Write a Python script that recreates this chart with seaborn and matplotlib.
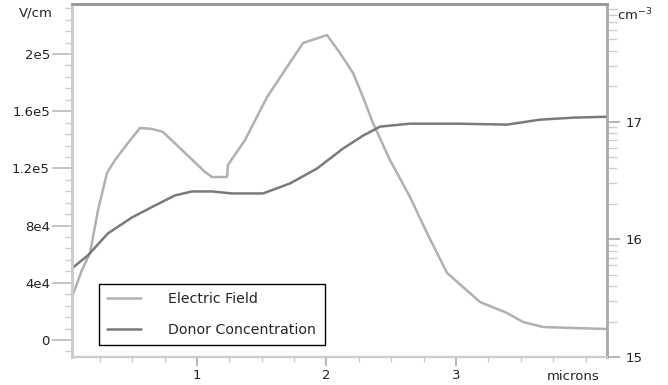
import numpy as np
import pandas as pd
import matplotlib
matplotlib.use('Agg')
import matplotlib.pyplot as plt
import seaborn as sns
from matplotlib.ticker import FixedLocator, FixedFormatter, MultipleLocator, LogFormatterExponent, LogLocator, NullFormatter

# Electric field (V/cm) vs depth (microns)
ef_x = [0.035, 0.112, 0.174, 0.236, 0.305, 0.367, 0.467, 0.560, 0.653, 0.737,
        0.884, 1.062, 1.116, 1.232, 1.239, 1.371, 1.541, 1.695, 1.819, 2.004,
        2.104, 2.205, 2.282, 2.359, 2.490, 2.645, 2.776, 2.931, 3.185, 3.394,
        3.517, 3.672, 3.903, 4.166]
ef_y = [30.1e3, 49.0e3, 60.8e3, 90.9e3, 116.8e3, 125.9e3, 137.8e3, 148.3e3, 147.6e3, 145.5e3,
        132.9e3, 117.5e3, 114.0e3, 114.0e3, 122.4e3, 139.9e3, 169.9e3, 190.9e3, 207.7e3, 213.3e3,
        200.7e3, 186.7e3, 169.9e3, 151.7e3, 125.9e3, 100.0e3, 74.8e3, 46.9e3, 26.6e3, 18.9e3,
        12.6e3, 9.1e3, 8.4e3, 7.7e3]

# Donor concentration, log10(cm^-3)
nd_x = [0.035, 0.158, 0.313, 0.498, 0.676, 0.830, 0.961, 1.116, 1.270, 1.510,
        1.718, 1.927, 2.127, 2.282, 2.413, 2.645, 3.008, 3.394, 3.649, 3.903, 4.166]
nd_log = [15.754, 15.864, 16.051, 16.186, 16.288, 16.373, 16.407, 16.407, 16.390, 16.390,
          16.475, 16.602, 16.771, 16.881, 16.958, 16.983, 16.983, 16.975, 17.017, 17.034, 17.042]

left_ticks = [0, 4e4, 8e4, 1.2e5, 1.6e5, 2e5]
left_labels = ['0', '4e4', '8e4', '1.2e5', '1.6e5', '2e5']
right_ticks = [1e15, 1e16, 1e17]
x_ticks = [1, 2, 3]

sns.set_theme(style='white')
plt.rcParams['font.family'] = ['DejaVu Sans']

ef = pd.DataFrame({'x': ef_x, 'y': ef_y})
nd = pd.DataFrame({'x': nd_x, 'y': 10 ** np.array(nd_log)})

fig = plt.figure(figsize=(6.68, 3.85), dpi=100)
ax = fig.add_axes([0.1078, 0.0727, 0.8009, 0.9169])
ax2 = ax.twinx()

sns.lineplot(data=ef, x='x', y='y', ax=ax, color='#b0b0b0', lw=1.8, legend=False)
sns.lineplot(data=nd, x='x', y='y', ax=ax2, color='#7a7a7a', lw=1.8, legend=False)

ax.set_xlim(0.035, 4.166)
ax.set_ylim(-11.9e3, 235e3)
ax2.set_yscale('log')
ax2.set_ylim(1e15, 1e18)

ax.set_xlabel('')
ax.set_ylabel('')
ax2.set_ylabel('')

# left axis ticks
ax.yaxis.set_major_locator(FixedLocator(left_ticks))
ax.yaxis.set_major_formatter(FixedFormatter(left_labels))
ax.yaxis.set_minor_locator(MultipleLocator(8000))
ax.tick_params(axis='y', which='major', length=14.4, width=1.2, color='#bbbbbb', labelsize=9.5,
               pad=1.5, left=True, labelcolor='#222222')
ax.tick_params(axis='y', which='minor', length=5, width=1, color='#cccccc', left=True)

# x axis ticks
ax.xaxis.set_major_locator(FixedLocator(x_ticks))
ax.xaxis.set_minor_locator(MultipleLocator(0.25))
ax.tick_params(axis='x', which='major', length=6.5, width=1.2, color='#aaaaaa', labelsize=9.5,
               pad=2, bottom=True, labelcolor='#222222')
ax.tick_params(axis='x', which='minor', length=3.6, width=1, color='#cccccc', bottom=True)

# right axis ticks (log scale, labelled by exponent)
ax2.yaxis.set_major_locator(FixedLocator(right_ticks))
ax2.yaxis.set_major_formatter(LogFormatterExponent(base=10))
ax2.yaxis.set_minor_locator(LogLocator(base=10, subs=np.arange(2, 10)))
ax2.yaxis.set_minor_formatter(NullFormatter())
ax2.tick_params(axis='y', which='major', length=9.4, width=1.2, color='#aaaaaa', labelsize=9.5,
                pad=3.6, right=True, labelcolor='#222222')
ax2.tick_params(axis='y', which='minor', length=7, width=1, color='#cccccc', right=True)

for a in (ax, ax2):
    a.spines['left'].set_color('#cccccc')
    a.spines['left'].set_linewidth(1.8)
    a.spines['bottom'].set_color('#cccccc')
    a.spines['bottom'].set_linewidth(1.5)
    a.spines['top'].set_color('#999999')
    a.spines['top'].set_linewidth(2)
    a.spines['right'].set_color('#aaaaaa')
    a.spines['right'].set_linewidth(1.8)

fig.text(53 / 668, 1 - 13 / 385, 'V/cm', ha='right', va='center', fontsize=9.5, color='#222222')
fig.text(617 / 668, 1 - 15 / 385, 'cm$^{-3}$', ha='left', va='center', fontsize=9.5, color='#222222')
fig.text(573 / 668, 1 - 377 / 385, 'microns', ha='center', va='center', fontsize=9.5, color='#222222')

handles = ax.get_lines()[:1] + ax2.get_lines()[:1]
leg = ax.legend(handles, ['Electric Field', 'Donor Concentration'], loc='lower left',
                bbox_to_anchor=(0.05, 0.034), fontsize=10.2, frameon=True, fancybox=False,
                edgecolor='black', framealpha=1, handlelength=2.4, handletextpad=1.9,
                labelspacing=1.15, borderpad=0.6, borderaxespad=0)
leg.get_frame().set_linewidth(1)
leg.set_zorder(5)

fig.savefig('out.png', dpi=100)
